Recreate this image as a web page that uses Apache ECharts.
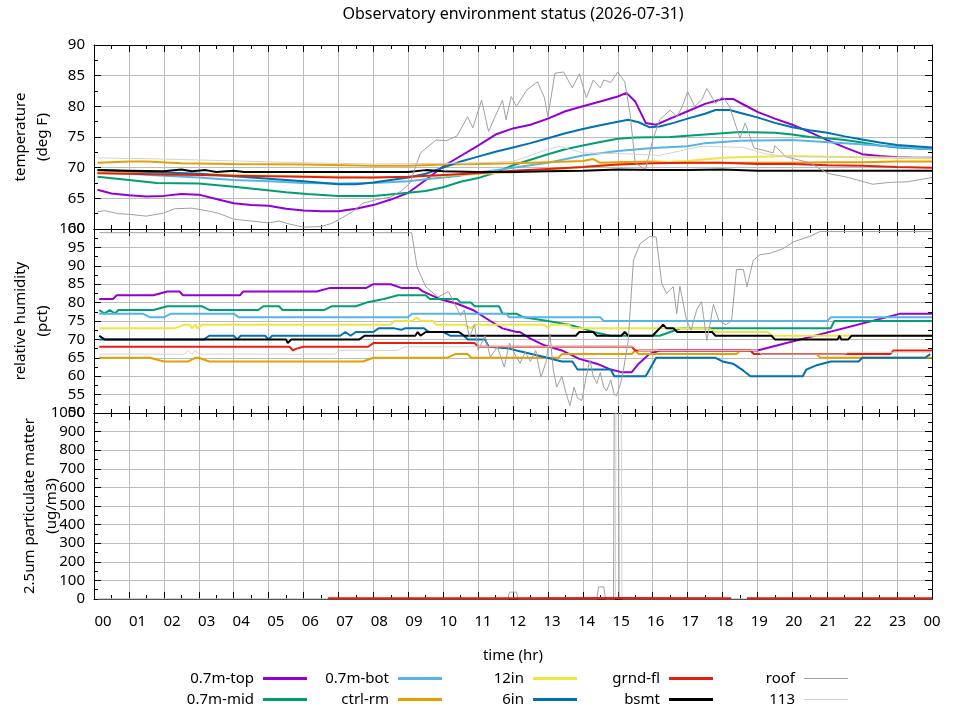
<!DOCTYPE html>
<html>
<head>
<meta charset="utf-8">
<script src="https://cdn.jsdelivr.net/npm/echarts@6/dist/echarts.min.js"></script>
<style>
  html, body { margin: 0; padding: 0; background: #fff; }
  #main { width: 960px; height: 720px; }
</style>
</head>
<body>
<div id="main"></div>
<script>
// time axis: hours of the day
const hourTicks = Array.from({ length: 25 }, (_, i) => i);

// ---- temperature (deg F), [hour, value]
const tempTop = [[0.1,66.4],[0.5,65.8],[1,65.5],[1.5,65.3],[2,65.4],[2.5,65.7],[3,65.6],[3.5,64.9],[4,64.2],[4.5,63.9],[5,63.8],[5.5,63.3],[6,63.0],[6.5,62.9],[7,62.9],[7.5,63.3],[8,63.9],[8.5,64.8],[9,65.9],[9.5,68.0],[10,70.2],[10.5,71.9],[11,73.6],[11.5,75.4],[12,76.4],[12.5,77.0],[13,78.0],[13.5,79.2],[14,80.0],[14.5,80.8],[15,81.6],[15.25,82.2],[15.5,80.8],[15.8,77.3],[16.1,77.0],[16.5,78.0],[17,79.2],[17.5,80.4],[18,81.2],[18.3,81.2],[18.6,80.3],[19,79.1],[19.5,78.0],[20,77.0],[20.5,75.8],[21,74.5],[21.5,73.3],[22,72.2],[22.5,71.9],[23,71.7],[23.5,71.6],[24,71.6]];
const tempMid = [[0.1,68.5],[1,68.0],[1.8,67.5],[3,67.4],[4,66.9],[4.7,66.5],[5.5,66.0],[6.1,65.7],[7,65.4],[8,65.4],[9,65.9],[9.5,66.2],[10,66.8],[10.5,67.7],[11,68.3],[11.5,69.2],[12,70.4],[12.5,71.3],[13,72.2],[13.5,73.0],[14,73.6],[14.5,74.2],[15,74.7],[15.5,74.9],[16.5,75.0],[17.5,75.4],[18.5,75.8],[19.5,75.7],[20,75.4],[20.5,75.0],[21,74.8],[21.5,74.5],[22,74.1],[22.5,73.6],[23,73.3],[24,73.0]];
const tempBot = [[0.1,69.2],[1,69.0],[2,68.7],[3,68.4],[4,68.0],[5,67.8],[6,67.5],[7,67.4],[8,67.5],[9,67.8],[9.5,68.1],[10,68.4],[10.5,68.7],[11,69.2],[11.5,69.6],[12,70.0],[13,70.8],[14,72.0],[15,72.7],[16,73.2],[17,73.5],[17.5,74.0],[18.5,74.4],[20,74.5],[21.5,74.0],[23,73.4],[24,73.0]];
const tempCtrl = [[0.1,70.8],[1,71.0],[1.5,71.0],[2.5,70.7],[4,70.6],[6,70.5],[8,70.3],[9,70.3],[10,70.5],[11,70.6],[12,70.7],[13,70.9],[14,71.1],[14.3,71.4],[14.5,70.8],[15,70.9],[16,71.0],[17,70.8],[18,70.8],[19,70.8],[20,70.8],[21,70.9],[22,70.9],[23,71.0],[24,71.0]];
const temp12in = [[0.1,69.3],[1,69.2],[2,69.1],[3,69.0],[4,68.8],[5,68.7],[6,68.6],[7,68.5],[8,68.4],[9,68.5],[10,68.7],[11,69.0],[12,69.2],[13,69.6],[14,70.1],[15,70.5],[16,70.8],[17,71.1],[18,71.6],[19,71.8],[20,71.9],[21,71.8],[22,71.7],[23,71.6],[24,71.5]];
const temp6in = [[0.1,69.6],[1,69.4],[2,69.2],[3,69.0],[4,68.6],[5,68.2],[6,67.8],[7,67.3],[7.5,67.3],[8,67.6],[8.5,68.0],[9,68.4],[9.5,69.0],[10,70.0],[10.5,71.0],[11,71.8],[11.5,72.6],[12,73.3],[12.5,74.0],[13,74.8],[13.5,75.6],[14,76.3],[14.5,76.9],[15,77.5],[15.3,77.8],[15.6,77.4],[15.9,76.6],[16.2,76.7],[16.6,77.3],[17,78.0],[17.5,78.8],[17.8,79.4],[18.2,79.4],[18.6,78.8],[19,78.2],[19.5,77.3],[20,76.6],[20.5,76.1],[21,75.7],[21.5,75.1],[22,74.6],[22.5,74.1],[23,73.7],[23.5,73.5],[24,73.3]];
const tempGrnd = [[0.1,69.1],[1,69.0],[2,68.9],[3,68.8],[4,68.7],[5,68.6],[6,68.5],[7,68.4],[8,68.4],[9,68.5],[10,68.8],[11,69.1],[12,69.5],[13,69.8],[14,70.1],[15,70.5],[16,70.7],[17,70.8],[18,70.8],[19,70.6],[20,70.6],[21,70.4],[22,70.3],[23,70.1],[24,70.0]];
const tempBsmt = [[0.1,69.6],[1,69.5],[2,69.4],[2.5,69.7],[2.8,69.4],[3.2,69.6],[3.5,69.3],[4,69.5],[4.3,69.3],[5,69.3],[6,69.3],[7,69.3],[8,69.3],[9,69.3],[9.5,69.6],[10,69.4],[11,69.3],[12,69.3],[13,69.4],[14,69.5],[15,69.7],[16,69.6],[17,69.6],[18,69.7],[19,69.5],[20,69.5],[21,69.5],[22,69.5],[23,69.5],[24,69.5]];
const tempRoof = [[0.1,62.8],[0.3,63.0],[0.7,62.5],[1,62.4],[1.5,62.1],[2,62.6],[2.3,63.3],[2.8,63.4],[3.3,62.9],[3.6,62.5],[4,61.6],[4.5,61.3],[5,61.0],[5.3,61.3],[5.6,60.8],[6,60.3],[6.5,60.4],[6.8,60.9],[7,61.5],[7.4,62.8],[7.7,64.2],[8.1,64.8],[8.5,65.2],[8.8,66.2],[9.05,67.5],[9.2,70.0],[9.35,72.4],[9.6,73.6],[9.8,74.5],[10.1,74.4],[10.4,75.2],[10.7,78.3],[10.85,76.5],[11.1,81.0],[11.3,75.9],[11.5,78.5],[11.7,81.0],[11.8,77.8],[11.95,81.6],[12.1,80.0],[12.4,82.7],[12.7,84.0],[12.9,81.4],[13.0,78.3],[13.2,85.4],[13.45,85.6],[13.7,83.0],[13.9,85.3],[14.1,81.4],[14.3,84.3],[14.5,83.0],[14.6,84.3],[14.8,83.9],[15.0,85.6],[15.2,84.0],[15.35,78.9],[15.5,70.8],[15.7,70.0],[15.8,69.8],[16.0,74.5],[16.2,77.8],[16.5,79.4],[16.7,78.3],[16.85,80.0],[17.0,82.4],[17.2,80.0],[17.4,81.0],[17.55,82.9],[17.8,80.5],[18.0,81.6],[18.2,80.0],[18.5,74.8],[18.65,77.3],[18.9,73.2],[19.2,72.8],[19.45,72.4],[19.5,73.6],[19.8,71.8],[20.5,70.8],[21,69.1],[21.6,68.4],[22.3,67.3],[22.8,67.6],[23.3,67.7],[24,68.4]];
const temp113 = [[0.1,71.6],[2,71.4],[4,71.1],[6,70.8],[8,70.6],[10,70.7],[11,70.8],[12,71.0],[12.8,72.6],[13.3,73.5],[14,72.4],[15,72.3],[16.2,72.0],[17.4,73.5],[18.6,73.3],[19.2,72.3],[19.8,71.8],[22,71.7],[24,71.6]];

// ---- relative humidity (pct)
const humTop = [[0.15,81],[0.55,81],[0.65,82],[1.7,82],[2.1,83],[2.45,83],[2.55,82],[4.18,82],[4.27,83],[6.38,83],[6.76,84],[7.8,84],[8.0,85],[8.5,85],[8.8,84],[9.28,84],[9.43,83],[9.9,81],[10.4,79.7],[10.85,78],[11.35,75],[11.7,73],[12.1,72],[12.2,72],[12.5,70.2],[12.9,68.4],[13.4,67],[13.9,64.7],[14.4,63.4],[14.8,61.8],[15.1,61.1],[15.4,61.1],[15.6,63.4],[15.9,66],[16.2,67],[19.0,67],[23.1,77],[24,77]];
const humMid = [[0.15,78],[0.3,77],[0.45,78],[0.6,77],[0.7,78],[1.7,78],[2.1,79],[3.1,79],[3.3,78],[4.7,78],[4.85,79],[5.3,79],[5.4,78],[6.6,78],[6.8,79],[7.5,79],[7.8,80],[8.3,81],[8.7,82],[9.5,82],[9.62,81],[10.4,81],[10.5,80],[10.8,80],[10.9,79],[11.6,79],[11.7,77],[12.1,77],[12.3,76],[13.0,75],[13.6,74],[14.0,73],[14.3,72],[14.8,71],[16.2,71],[16.5,72],[16.8,73],[21.1,73],[21.2,75],[24,75]];
const humBot = [[0.15,77],[1.4,77],[1.6,76],[2.0,76],[2.2,77],[4.0,77],[4.15,76],[9.0,76],[9.1,77],[11.8,77],[11.9,76],[14.5,76],[14.6,75],[21.0,75],[21.1,76],[24,76]];
const humCtrl = [[0.15,65],[1.6,65],[2.0,64],[2.7,64],[2.9,65],[3.0,65],[3.3,64],[7.7,64],[8.0,65],[10.1,65],[10.35,66],[10.7,66],[10.8,65],[13.3,65],[13.4,66],[15.4,66],[15.5,67],[15.6,66],[18.4,66],[18.5,67],[18.8,67],[18.9,66],[20.7,66],[20.8,65],[24,65]];
const hum12in = [[0.15,73],[2.3,73],[2.6,74],[2.75,74],[2.8,73],[2.9,74],[2.95,73],[3.1,74],[8.5,74],[8.6,75],[9.1,75],[9.25,76],[9.35,75],[9.7,75],[9.8,74],[10.6,74],[10.8,73],[10.9,74],[12.9,74],[13.0,73],[13.1,74],[13.6,74],[13.7,73],[17.6,73],[17.8,72],[19.3,72],[19.4,71],[24,71]];
const hum6in = [[0.15,70],[3.15,70],[3.3,71],[4.0,71],[4.1,70],[4.2,71],[4.9,71],[5.0,70],[5.1,71],[7.05,71],[7.2,72],[7.35,71],[7.5,72],[8.0,72],[8.15,73],[8.6,73],[8.8,72.6],[8.9,73],[9.45,73],[9.6,72],[10.0,72],[10.2,71],[10.6,71],[10.7,70],[11.2,70],[11.3,68],[11.9,67.5],[12.1,67],[12.9,65.2],[13.4,64],[13.7,64],[13.85,61.8],[14.8,61.8],[14.9,60],[15.8,60],[16.1,65],[17.8,65],[18.0,64],[18.3,63.4],[18.6,61.5],[18.8,60],[20.3,60],[20.4,61.8],[20.7,63],[21.1,64],[21.9,64],[22.0,65],[23.8,65],[23.95,66]];
const humGrnd = [[0.15,68],[5.6,68],[5.7,67],[5.8,67.5],[6.0,68],[7.85,68],[8.0,69],[10.9,69],[11.0,68],[15.4,68],[15.5,67],[18.8,67],[18.9,66],[22.8,66],[22.9,67],[24,67]];
const humBsmt = [[0.15,71],[0.3,70],[5.5,70],[5.55,69],[5.65,70],[7.6,70],[7.75,71],[9.2,71],[9.27,72],[9.35,71],[9.5,72],[10.45,72],[10.6,71],[13.8,71],[13.9,72],[14.3,72],[14.4,71],[15.1,71],[15.2,72],[15.3,71],[16.0,71],[16.1,72],[16.2,73],[16.3,74],[16.4,73],[16.6,73],[16.7,72],[17.7,72],[17.8,71],[19.4,71],[19.5,70],[21.3,70],[21.35,71],[21.4,70],[21.6,70],[21.7,71],[24,71]];
const humRoof = [[0.15,99],[9.1,99],[9.25,89.7],[9.5,84.3],[9.85,81.5],[10.15,83],[10.5,76.5],[10.6,78],[10.75,70.6],[10.9,74],[11.0,67],[11.2,71],[11.35,65.2],[11.55,68],[11.75,62.5],[11.9,69],[12.05,66],[12.2,63.5],[12.35,66.5],[12.5,64],[12.65,67],[12.8,59.7],[12.95,64],[13.06,71.5],[13.15,62],[13.25,57],[13.4,60],[13.5,56],[13.63,52],[13.75,57],[13.85,54],[13.97,53.4],[14.1,60],[14.2,64.4],[14.3,60],[14.4,58],[14.5,61],[14.6,57],[14.68,56],[14.8,59],[14.9,55],[14.97,54.7],[15.08,58],[15.16,61.5],[15.3,69.7],[15.45,91.5],[15.64,96],[15.92,98],[16.1,97.8],[16.26,85.2],[16.4,82.5],[16.5,83.5],[16.59,84.3],[16.69,77],[16.78,84.5],[16.97,75.2],[17.1,72.5],[17.26,78],[17.4,80.3],[17.55,69.7],[17.64,74],[17.74,79.5],[17.9,75],[18.1,74],[18.26,75],[18.4,89],[18.6,89],[18.7,84.3],[18.88,91.5],[19.07,93],[19.36,93.4],[19.74,94.7],[20.03,96.5],[20.5,98],[20.79,99.3],[24,99.3]];
const hum113 = [[0.15,66],[2.6,66],[2.7,67],[2.8,66],[2.9,67],[3.0,66],[6.9,66],[7.0,67],[8.7,67],[8.9,68],[11.0,68],[15.5,68],[15.6,67],[19.0,67],[19.1,66],[21.5,66],[21.6,66.5],[24,66.5]];

// ---- 2.5um particulate matter (ug/m3)
const pmGrnd = [[6.7,4],[9,4],[12,4],[15,5],[18.25,4],[18.3,null],[18.7,4],[21,4],[24,4]];
const pmRoof = [[0.1,0],[11.85,0],[11.9,37],[12.1,37],[12.15,0],[14.4,0],[14.45,65],[14.6,65],[14.65,0],[14.88,0],[14.9,1100],[15.02,1100],[15.04,0],[24,0]];
const pm113 = [[0.1,0],[14.93,0],[14.95,1100],[15.1,1100],[15.12,0],[24,0]];

const names = ['0.7m-top', '0.7m-mid', '0.7m-bot', 'ctrl-rm', '12in', '6in', 'grnd-fl', 'bsmt', 'roof', '113'];
const colors = {
  '0.7m-top': '#9400d3', '0.7m-mid': '#009e73', '0.7m-bot': '#56b4e9', 'ctrl-rm': '#e69f00',
  '12in': '#f0e442', '6in': '#0072b2', 'grnd-fl': '#e51e10', 'bsmt': '#000000',
  'roof': '#a0a0a0', '113': '#d3d3d3'
};
const thin = { 'roof': true, '113': true };

const chart = echarts.init(document.getElementById('main'));

const font = 'Noto Sans';
const gridColor = '#bcbcbc';

function line(name, data, panel, z) {
  return {
    name: name,
    type: 'line',
    data: data,
    xAxisIndex: panel * 2,
    yAxisIndex: panel * 2,
    symbol: 'none',
    showSymbol: false,
    connectNulls: false,
    clip: true,
    z: z || 2,
    lineStyle: { color: colors[name], width: thin[name] ? 1 : 2 },
    itemStyle: { color: colors[name] },
    emphasis: { disabled: true }
  };
}

// one x axis pair (bottom + mirrored top) per panel
function xPair(grid) {
  const base = {
    type: 'value', min: 0, max: 24, interval: 1, gridIndex: grid,
    axisLine: { show: true, onZero: false, lineStyle: { color: '#000', width: 1 } },
    axisTick: { show: true, inside: true, length: 7, lineStyle: { color: '#000' } },
    minorTick: { show: true, splitNumber: 2, length: 4, lineStyle: { color: '#000' } },
    axisLabel: { show: false }
  };
  return [
    Object.assign({}, base, { position: 'bottom', splitLine: { show: true, lineStyle: { color: gridColor, width: 1 } } }),
    Object.assign({}, base, { position: 'top', splitLine: { show: false } })
  ];
}

function yPair(grid, min, max, interval, name, gap) {
  const base = {
    type: 'value', min: min, max: max, interval: interval, gridIndex: grid,
    axisLine: { show: true, onZero: false, lineStyle: { color: '#000', width: 1 } },
    axisTick: { show: true, inside: true, length: 7, lineStyle: { color: '#000' } },
    minorTick: { show: true, splitNumber: 2, length: 4, lineStyle: { color: '#000' } }
  };
  return [
    Object.assign({}, base, {
      position: 'left',
      name: name, nameLocation: 'middle', nameRotate: 90, nameGap: gap,
      nameMoveOverlap: false,
      nameTextStyle: { fontFamily: font, fontSize: 15, color: '#000', lineHeight: 22 },
      splitLine: { show: true, lineStyle: { color: gridColor, width: 1 } },
      axisLabel: {
        show: true, margin: 9, fontFamily: font, fontSize: 15, color: '#000',
        showMinLabel: true, showMaxLabel: true,
        formatter: (v) => String(v)
      }
    }),
    Object.assign({}, base, { position: 'right', splitLine: { show: false }, axisLabel: { show: false } })
  ];
}

const xAxes = [].concat(xPair(0), xPair(1), xPair(2));
xAxes[4].name = 'time (hr)';
xAxes[4].nameLocation = 'middle';
xAxes[4].nameGap = 49;
xAxes[4].nameTextStyle = { fontFamily: font, fontSize: 15, color: '#000' };
// label-only axis: the hour labels sit slightly right of the grid lines
xAxes.push({
  type: 'value', gridIndex: 2, position: 'bottom', min: -0.2606, max: 24,
  axisLine: { show: false }, axisTick: { show: false }, splitLine: { show: false },
  axisLabel: {
    show: true, margin: 15, fontFamily: font, fontSize: 15, color: '#000',
    customValues: hourTicks,
    formatter: (v) => String(Math.round(v) % 24).padStart(2, '0')
  }
});

const yAxes = [].concat(
  yPair(0, 60, 90, 5, 'temperature\n(deg F)', 40),
  yPair(1, 50, 100, 5, 'relative humidity\n(pct)', 40),
  yPair(2, 0, 1000, 100, '2.5um particulate matter\n(ug/m3)', 31)
);

const tempData = [tempTop, tempMid, tempBot, tempCtrl, temp12in, temp6in, tempGrnd, tempBsmt, tempRoof, temp113];
const humData = [humTop, humMid, humBot, humCtrl, hum12in, hum6in, humGrnd, humBsmt, humRoof, hum113];

const series = [];
names.forEach((n, i) => series.push(line(n, tempData[i], 0)));
names.forEach((n, i) => series.push(line(n, humData[i], 1)));
series.push(line('roof', pmRoof, 2));
series.push(line('113', pm113, 2));
series.push(line('grnd-fl', pmGrnd, 2, 3));

// gnuplot-style key: 5 columns x 2 rows, text right-aligned before the sample
const colRight = [653, 518, 383, 247, 112];
const rowTop = [671, 692];
const legends = names.map((n, i) => ({
  data: [n],
  right: colRight[Math.floor(i / 2)],
  top: rowTop[i % 2],
  orient: 'horizontal',
  align: 'right',
  padding: 0,
  icon: 'rect',
  itemWidth: 44,
  itemHeight: thin[n] ? 1 : 3,
  textStyle: { fontFamily: font, fontSize: 15, color: '#000', padding: [0, 4, 0, 0] },
  selectedMode: true
}));

const option = {
  animation: false,
  backgroundColor: '#fff',
  textStyle: { fontFamily: font },
  title: {
    text: 'Observatory environment status (2026-07-31)',
    left: 513, top: 6, textAlign: 'center', padding: 0,
    textStyle: { fontFamily: font, fontSize: 16, fontWeight: 'normal', color: '#000' }
  },
  legend: legends,
  grid: [
    { left: 94, right: 28, top: 45, height: 184, outerBoundsMode: 'none' },
    { left: 94, right: 28, top: 229, height: 184, outerBoundsMode: 'none' },
    { left: 94, right: 28, top: 413, height: 186, outerBoundsMode: 'none' }
  ],
  xAxis: xAxes,
  yAxis: yAxes,
  series: series
};

chart.setOption(option);
</script>
</body>
</html>
